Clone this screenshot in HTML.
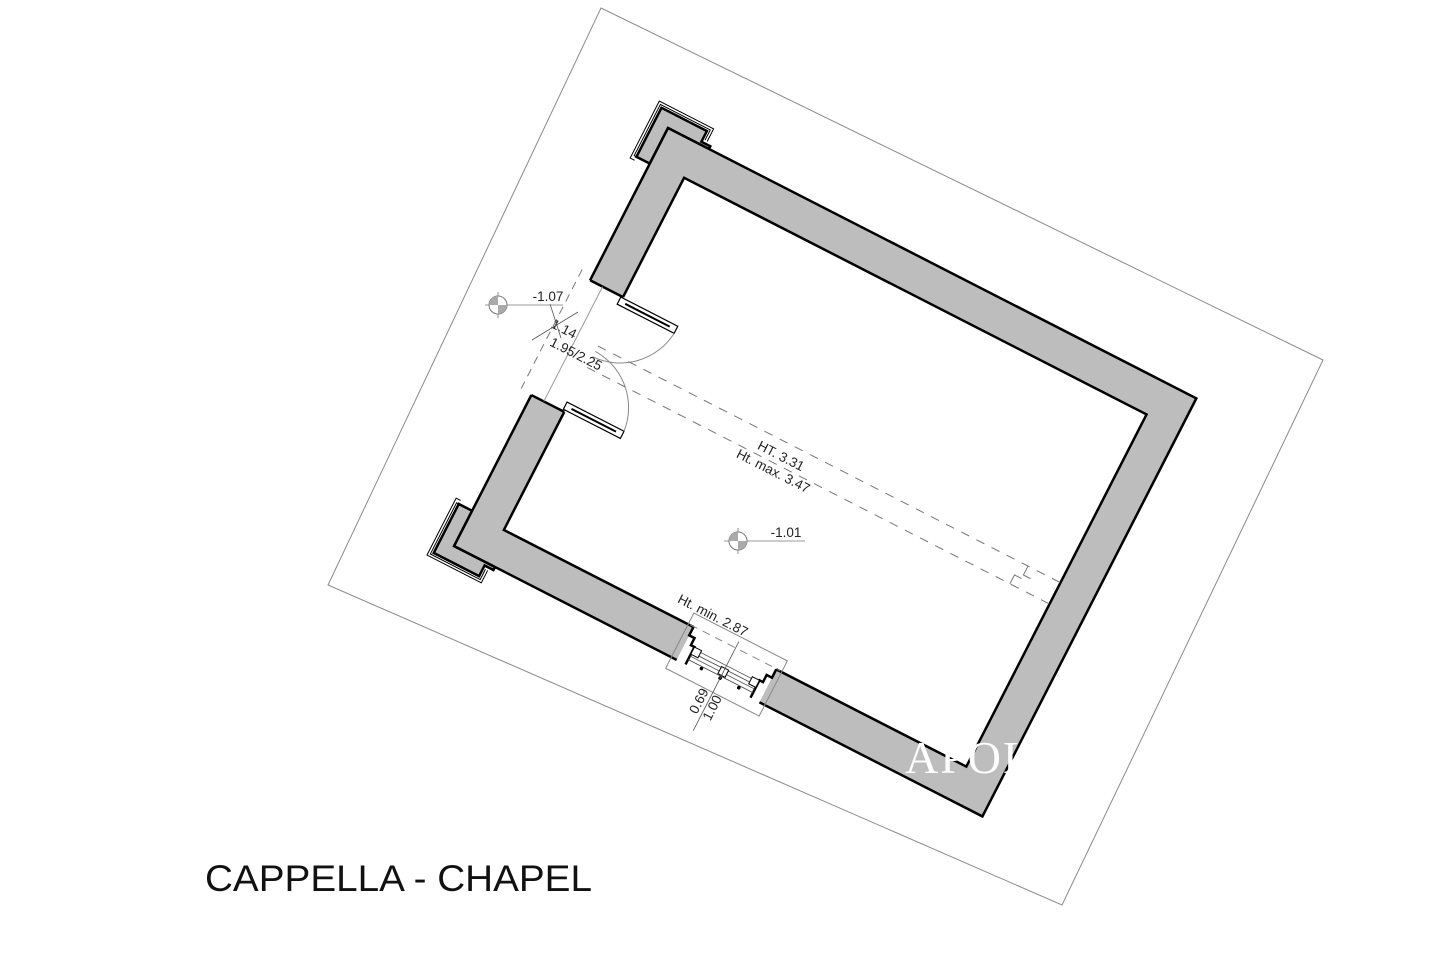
<!DOCTYPE html>
<html><head><meta charset="utf-8"><style>
html,body{margin:0;padding:0;background:#fff;}
svg{display:block;}
.s{font-family:"Liberation Sans",Arial,sans-serif;}
</style></head><body>
<svg width="1440" height="960" viewBox="0 0 1440 960" xmlns="http://www.w3.org/2000/svg">
<rect width="1440" height="960" fill="#fff"/>
<polygon points="601,8 1323,360 1062,905 328,585" fill="none" stroke="#8a8a8a" stroke-width="1"/>

<g transform="translate(668,128) rotate(27.1)">
  <g stroke="#000" stroke-width="1" fill="none">
    <path d="M-15,44 L-20,44 L-20,-20 L41,-20 L41,-6" />
    <path d="M-15,40 L-17.5,40 L-17.5,-17.5 L38.5,-17.5 L38.5,-6" />
    <path d="M-15,426 L-20,426 L-20,490 L41,490 L41,476" />
    <path d="M-15,430 L-17.5,430 L-17.5,487.5 L38.5,487.5 L38.5,476" />
  </g>
  <path d="M-15,40 L-15,-15 L36,-15 L36,-3 L46,-3 L46,0 L0,0 L0,40 Z" fill="#bdbdbd" stroke="#000" stroke-width="2.5"/>
  <path d="M-15,430 L-15,485 L36,485 L36,473 L46,473 L46,469.6 L0,469.6 L0,430 Z" fill="#bdbdbd" stroke="#000" stroke-width="2.5"/>
  <path d="M0,0 H593.5 V469.6 H0 Z M37,37 V432.6 H556.5 V37 Z" fill="#bdbdbd" fill-rule="evenodd" stroke="#000" stroke-width="2.5"/>
  <rect x="-2" y="171" width="41" height="129" fill="#fff"/>
  <line x1="0" y1="171" x2="37" y2="171" stroke="#000" stroke-width="2.5"/>
  <line x1="0" y1="300" x2="37" y2="300" stroke="#000" stroke-width="2.5"/>
  <line x1="-12" y1="165" x2="-12" y2="305" stroke="#777" stroke-width="1" stroke-dasharray="8,6"/>
  <line x1="14" y1="171" x2="14" y2="300" stroke="#999" stroke-width="1"/>
  <rect x="35" y="172" width="64" height="8" fill="#fff" stroke="#000" stroke-width="1.2"/>
  <line x1="42" y1="176" x2="92" y2="176" stroke="#000" stroke-width="2"/>
  <rect x="35" y="290" width="64" height="8" fill="#fff" stroke="#000" stroke-width="1.2"/>
  <line x1="42" y1="294" x2="92" y2="294" stroke="#000" stroke-width="2"/>
  <path d="M99,180 A64,64 0 0 1 37,238" fill="none" stroke="#888" stroke-width="1"/>
  <path d="M99,290 A64,64 0 0 0 37,232" fill="none" stroke="#888" stroke-width="1"/>
  <g stroke="#777" stroke-width="1" stroke-dasharray="9,8" fill="none">
    <line x1="37" y1="226" x2="556" y2="226"/>
    <line x1="37" y1="250" x2="556" y2="250"/>
  </g>
  <path d="M520,226 V236 H528 M512,250 V240 H520" fill="none" stroke="#777" stroke-width="1"/>
  <text class="s" x="250" y="245" font-size="13.5" fill="#222" text-anchor="middle">HT. 3.31</text>
  <text class="s" x="250" y="262" font-size="13.5" fill="#222" text-anchor="middle">Ht. max. 3.47</text>
  <!-- window -->
  <rect x="250" y="431" width="93" height="41" fill="#fff"/>
  <path d="M250,432.6 V442 H256 V450 H260 V469.6" fill="none" stroke="#000" stroke-width="2.5"/>
  <path d="M343,432.6 V442 H337 V450 H333 V469.6" fill="none" stroke="#000" stroke-width="2.5"/>
  <rect x="244" y="420" width="105" height="62" fill="none" stroke="#888" stroke-width="1"/>
  <line x1="246" y1="432" x2="347" y2="432" stroke="#888" stroke-width="1" stroke-dasharray="8,6"/>
  <g stroke="#444" stroke-width="0.8">
    <line x1="260" y1="452" x2="333" y2="452"/>
    <line x1="260" y1="456" x2="333" y2="456"/>
    <line x1="260" y1="460" x2="333" y2="460"/>
    <line x1="260" y1="464" x2="333" y2="464"/>
  </g>
  <rect x="260" y="450" width="8" height="8" fill="#fff" stroke="#000" stroke-width="1"/>
  <rect x="293" y="455" width="8" height="8" fill="#fff" stroke="#000" stroke-width="1"/>
  <rect x="325" y="450" width="8" height="8" fill="#fff" stroke="#000" stroke-width="1"/>
  <circle cx="276" cy="466" r="1.8" fill="#000"/>
  <circle cx="297" cy="466" r="1.8" fill="#000"/>
  <circle cx="318" cy="466" r="1.8" fill="#000"/>
  <line x1="297" y1="425" x2="297" y2="525" stroke="#555" stroke-width="0.8"/>
  <text class="s" x="262" y="418" font-size="13.5" fill="#222" text-anchor="middle">Ht. min. 2.87</text>
  <text class="s" transform="translate(293,496) rotate(-90)" font-size="13.5" fill="#222" text-anchor="middle">0.69</text>
  <text class="s" transform="translate(308,496) rotate(-90)" font-size="13.5" fill="#222" text-anchor="middle">1.00</text>
</g>

<g transform="translate(562,333) rotate(27.1)"><text class="s" font-size="13.5" fill="#222" text-anchor="middle">1.14</text></g>
<g transform="translate(574,358) rotate(27.1)"><text class="s" font-size="13.5" fill="#222" text-anchor="middle">1.95/2.25</text></g>
<line x1="532" y1="340" x2="578" y2="312" stroke="#555" stroke-width="0.8"/>
<line x1="550" y1="304" x2="561" y2="338" stroke="#555" stroke-width="0.8"/>

<g>
  <line x1="485" y1="305" x2="563" y2="305" stroke="#777" stroke-width="0.8"/>
  <line x1="498" y1="292" x2="498" y2="318" stroke="#777" stroke-width="0.8"/>
  <circle cx="498" cy="305" r="9" fill="#fff" stroke="#777" stroke-width="1"/>
  <path d="M498,305 L489,305 A9,9 0 0 1 498,296 Z" fill="#aaa"/>
  <path d="M498,305 L507,305 A9,9 0 0 1 498,314 Z" fill="#aaa"/>
  <text class="s" x="548" y="301" font-size="13.5" fill="#222" text-anchor="middle">-1.07</text>
</g>
<g>
  <line x1="724" y1="541" x2="805" y2="541" stroke="#777" stroke-width="0.8"/>
  <line x1="738" y1="528" x2="738" y2="554" stroke="#777" stroke-width="0.8"/>
  <circle cx="738" cy="541" r="9" fill="#fff" stroke="#777" stroke-width="1"/>
  <path d="M738,541 L729,541 A9,9 0 0 1 738,532 Z" fill="#aaa"/>
  <path d="M738,541 L747,541 A9,9 0 0 1 738,550 Z" fill="#aaa"/>
  <text class="s" x="786" y="537" font-size="13.5" fill="#222" text-anchor="middle">-1.01</text>
</g>

<text x="905" y="773" style="font-family:'Liberation Serif',serif" font-size="46" fill="#fff" letter-spacing="2">APOLLO</text>

<text class="s" x="205" y="891" font-size="37" fill="#111" textLength="387" lengthAdjust="spacingAndGlyphs">CAPPELLA - CHAPEL</text>
</svg>
</body></html>
